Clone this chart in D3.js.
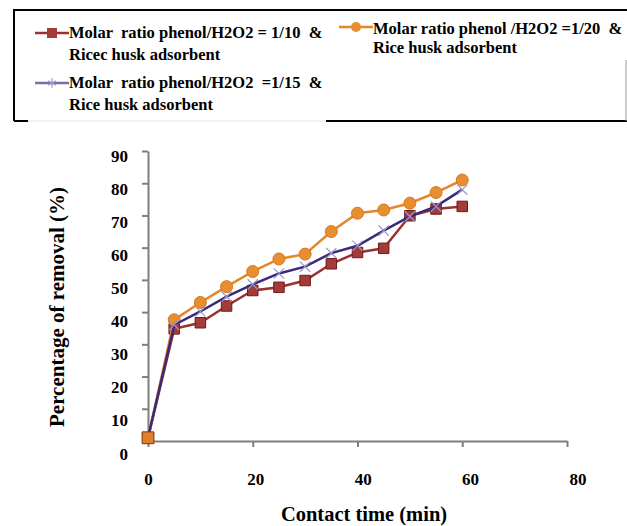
<!DOCTYPE html>
<html>
<head>
<meta charset="utf-8">
<script src="https://cdn.jsdelivr.net/npm/d3@7"></script>
<style>
  body { margin: 0; background: #fff; }
  svg { display: block; font-family: "Liberation Serif", "Times New Roman", serif; font-weight: bold; }
  svg text { white-space: pre; }
</style>
</head>
<body>
<svg id="chart" width="627" height="526"></svg>
<script>
// contact time (min)
const times = [0, 5, 10, 15, 20, 25, 30, 35, 40, 45, 50, 55, 60];
// percentage of removal (%)
const ratio10 = [1, 34.8, 36.7, 41.9, 46.7, 47.7, 49.8, 55, 58.5, 59.8, 69.9, 72, 72.8];
const ratio15 = [1, 36, 40.2, 44.8, 48.6, 52, 54.1, 58.3, 60.6, 65.3, 69.7, 72.8, 78];
const ratio20 = [1, 37.6, 43, 47.9, 52.6, 56.5, 58, 65, 70.7, 71.7, 73.8, 77.1, 81];
const xTicks = [0, 20, 40, 60, 80];
const yTicks = [0, 10, 20, 30, 40, 50, 60, 70, 80, 90];

const svg = d3.select("#chart");
const serif = '"Liberation Serif", "Times New Roman", serif';

const x = d3.scaleLinear().domain([0, 80]).range([148, 567]);
const y = d3.scaleLinear().domain([0, 90]).range([441, 151]);

// axes
const yAxis = svg.append("g")
  .attr("transform", "translate(148,0)")
  .call(d3.axisLeft(y).tickValues(yTicks).tickSize(6).tickSizeOuter(0).tickPadding(14));
yAxis.attr("font-family", serif).attr("font-size", 17);
yAxis.selectAll("text")
  .attr("dy", d => (4 + (90 - d) / 90 * 8 + 6) + "px")
  .attr("fill", "#000");

const xAxis = svg.append("g")
  .attr("transform", "translate(0,441)")
  .call(d3.axisBottom(x).tickValues(xTicks).tickSize(6).tickSizeOuter(0).tickPadding(26));
xAxis.attr("font-family", serif).attr("font-size", 17);
xAxis.selectAll("text")
  .attr("dx", d => (d * 0.13) + "px")
  .attr("fill", "#000");

svg.selectAll(".domain, .tick line").attr("stroke", "#7f7f7f").attr("stroke-width", 2);

// axis titles
svg.append("text")
  .attr("x", 364).attr("y", 521)
  .attr("text-anchor", "middle")
  .style("font-size", "20.5px")
  .text("Contact time (min)");

svg.append("text")
  .attr("transform", "translate(64,307) rotate(-90)")
  .attr("text-anchor", "middle")
  .style("font-size", "21px")
  .text("Percentage of removal (%)");

const line = d3.line().x((d, i) => x(times[i])).y(d => y(d));

// 1/10 series
svg.append("path").datum(ratio10)
  .attr("d", line).attr("fill", "none")
  .attr("stroke", "#9b3232").attr("stroke-width", 2.5);
svg.selectAll(".sq").data(ratio10).join("path")
  .attr("class", "sq")
  .attr("transform", (d, i) => `translate(${x(times[i])},${y(d)})`)
  .attr("d", d3.symbol(d3.symbolSquare, 110))
  .attr("fill", "#a43b3b").attr("stroke", "#6e1a1a").attr("stroke-width", 1);

// 1/20 series
svg.append("path").datum(ratio20)
  .attr("d", line).attr("fill", "none")
  .attr("stroke", "#e5852c").attr("stroke-width", 2.5);
svg.selectAll(".ci").data(ratio20).join("circle")
  .attr("class", "ci")
  .attr("cx", (d, i) => x(times[i])).attr("cy", d => y(d))
  .attr("r", d => d < 5 ? 0 : 6)
  .attr("fill", "#e88e30").attr("stroke", "#d7771e").attr("stroke-width", 1);

// 1/15 series
svg.append("path").datum(ratio15)
  .attr("d", line).attr("fill", "none")
  .attr("stroke", "#392a7a").attr("stroke-width", 2.5);
svg.selectAll(".xm").data(ratio15).join("path")
  .attr("class", "xm")
  .attr("transform", (d, i) => `translate(${x(times[i])},${y(d)})`)
  .attr("d", d3.symbol(d3.symbolX, 70))
  .attr("fill", "none").attr("stroke", "#9c98cc").attr("stroke-width", 1.2)
  .attr("opacity", (d, i) => i === 0 ? 0 : 1);

// origin marker (orange square seen at 0,0)
svg.append("path")
  .attr("transform", `translate(${x(times[0])},${y(ratio20[0])})`)
  .attr("d", d3.symbol(d3.symbolSquare, 140))
  .attr("fill", "#e0802c").attr("stroke", "#7a3a10").attr("stroke-width", 1);

// legend box
const lg = svg.append("g");
lg.append("path").attr("d", "M14,121 V10 H627").attr("fill", "none").attr("stroke", "#000").attr("stroke-width", 2);
lg.append("line").attr("x1", 14).attr("x2", 326).attr("y1", 121).attr("y2", 121).attr("stroke", "#e3e3e3").attr("stroke-width", 1);
lg.append("line").attr("x1", 14).attr("x2", 28).attr("y1", 121).attr("y2", 121).attr("stroke", "#000").attr("stroke-width", 2);
lg.append("line").attr("x1", 326).attr("x2", 627).attr("y1", 121).attr("y2", 121).attr("stroke", "#000").attr("stroke-width", 2);
lg.append("line").attr("x1", 626).attr("x2", 626).attr("y1", 60).attr("y2", 121).attr("stroke", "#999").attr("stroke-width", 1);

const legendItems = [
  { lines: ["Molar  ratio phenol/H2O2 = 1/10  &", "Ricec husk adsorbent"], x: 35, y: 33, dy: 5, gap: 22, color: "#9b3232", mark: "sq" },
  { lines: ["Molar  ratio phenol/H2O2  =1/15  &", "Rice husk adsorbent"], x: 35, y: 83, dy: 5, gap: 22, color: "#7b6bb0", mark: "x" },
  { lines: ["Molar ratio phenol /H2O2 =1/20  &", "Rice husk adsorbent"], x: 339, y: 27, dy: 7, gap: 19, color: "#e5852c", mark: "ci" }
];
legendItems.forEach(it => {
  const g = lg.append("g").attr("transform", `translate(${it.x},${it.y})`);
  g.append("line").attr("x1", 0).attr("x2", 34).attr("stroke", it.color).attr("stroke-width", 2.5);
  if (it.mark === "sq") {
    g.append("rect").attr("x", 12).attr("y", -5).attr("width", 10).attr("height", 10).attr("fill", "#a43b3b");
  } else if (it.mark === "ci") {
    g.append("circle").attr("cx", 17).attr("r", 5).attr("fill", "#e88e30");
  } else {
    g.append("path").attr("transform", "translate(17,0)")
      .attr("d", d3.symbol(d3.symbolAsterisk, 60)).attr("stroke", "#9c98cc").attr("stroke-width", 1.2);
  }
  const t = g.append("text").attr("x", 34).attr("y", it.dy).style("font-size", "16.5px");
  it.lines.forEach((s, k) => t.append("tspan").attr("x", 34).attr("dy", k === 0 ? 0 : it.gap).text(s));
});
</script>
</body>
</html>
